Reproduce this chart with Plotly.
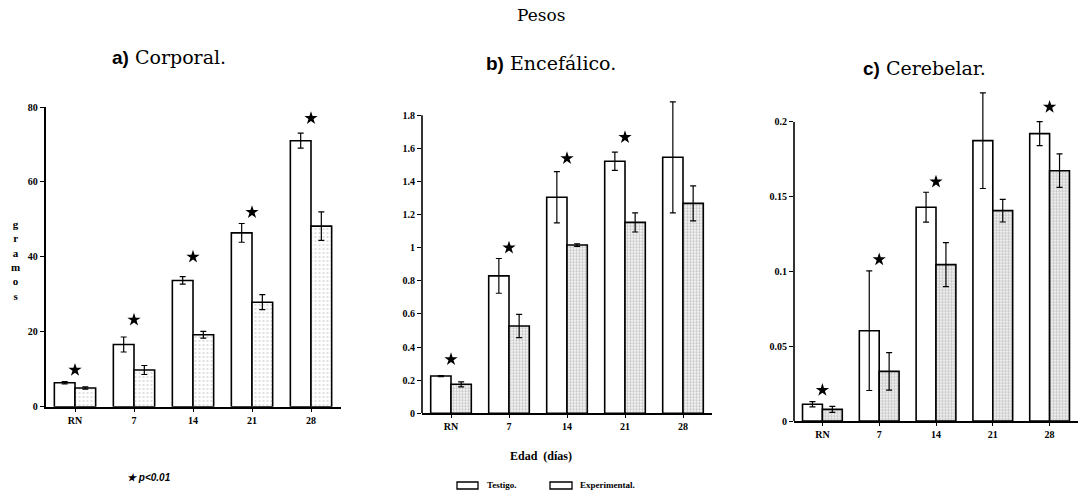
import plotly.graph_objects as go

# ---------------- data ----------------
categories = ["RN", "7", "14", "21", "28"]

corporal_testigo = [6.4, 16.6, 33.7, 46.4, 71.0]
corporal_testigo_err = [0.3, 2.0, 1.0, 2.5, 2.0]
corporal_exp = [5.0, 9.8, 19.2, 27.9, 48.2]
corporal_exp_err = [0.3, 1.2, 0.9, 2.0, 3.8]
corporal_star = [9.8, 23.2, 40.0, 51.9, 77.0]

encef_testigo = [0.225, 0.83, 1.305, 1.522, 1.546]
encef_testigo_err = [0.003, 0.105, 0.155, 0.055, 0.335]
encef_exp = [0.175, 0.527, 1.016, 1.153, 1.268]
encef_exp_err = [0.015, 0.07, 0.008, 0.058, 0.106]
encef_star = [0.326, 1.0, 1.54, 1.667, None]

cereb_testigo = [0.0112, 0.0604, 0.143, 0.1875, 0.1922]
cereb_testigo_err = [0.0017, 0.040, 0.010, 0.032, 0.008]
cereb_exp = [0.0078, 0.0332, 0.1046, 0.1407, 0.1674]
cereb_exp_err = [0.002, 0.0125, 0.0147, 0.0076, 0.0112]
cereb_star = [0.0207, 0.108, 0.160, None, 0.210]

y_ticks_a = [0, 20, 40, 60, 80]
y_ticks_b = [0, 0.2, 0.4, 0.6, 0.8, 1, 1.2, 1.4, 1.6, 1.8]
y_ticks_c = [0, 0.05, 0.1, 0.15, 0.2]

legend_names = ["Testigo.", "Experimental."]

# ---------------- figure ----------------
W, H = 1082, 499
fig = go.Figure()

TICKFONT = dict(family="Liberation Serif", size=10, color="black", weight="bold")


def px(x):
    return x / W


def py(y):
    return 1 - y / H


panels = [
    ("x", "y", corporal_testigo, corporal_testigo_err, corporal_exp, corporal_exp_err, corporal_star,
     dict(size=4, solidity=0.12, fgcolor="#666666")),
    ("x2", "y2", encef_testigo, encef_testigo_err, encef_exp, encef_exp_err, encef_star,
     dict(size=3, solidity=0.5, fgcolor="#8a8a8a")),
    ("x3", "y3", cereb_testigo, cereb_testigo_err, cereb_exp, cereb_exp_err, cereb_star,
     dict(size=3, solidity=0.6, fgcolor="#8a8a8a")),
]

for xa, ya, t, te, e, ee, st, pat in panels:
    fig.add_trace(go.Bar(
        x=categories, y=t, name=legend_names[0], xaxis=xa, yaxis=ya,
        marker=dict(color="white", line=dict(color="black", width=1.6)),
        error_y=dict(type="data", array=te, color="black", thickness=1.2, width=3),
        showlegend=False,
    ))
    fig.add_trace(go.Bar(
        x=categories, y=e, name=legend_names[1], xaxis=xa, yaxis=ya,
        marker=dict(color="white", line=dict(color="black", width=1.6),
                    pattern=dict(shape=".", bgcolor="white", **pat)),
        error_y=dict(type="data", array=ee, color="black", thickness=1.2, width=3),
        showlegend=False,
    ))
    fig.add_trace(go.Scatter(
        x=categories, y=st, mode="markers", xaxis=xa, yaxis=ya,
        marker=dict(symbol="star", size=10, color="black", line=dict(width=0)),
        showlegend=False, hoverinfo="skip",
    ))

xcommon = dict(type="category", range=[-0.5, 4.5], showline=True, linecolor="black", linewidth=1.6,
               ticks="outside", ticklen=3, tickcolor="black", tickfont=TICKFONT,
               showgrid=False, zeroline=False, fixedrange=True, automargin=False)
ycommon = dict(showgrid=False, zeroline=False, ticks="outside", ticklen=4, tickcolor="black",
               tickfont=TICKFONT, fixedrange=True, automargin=False)

fig.update_layout(
    width=W, height=H,
    margin=dict(l=0, r=0, t=0, b=0, autoexpand=False),
    paper_bgcolor="white", plot_bgcolor="white",
    barmode="group", bargap=0.3, bargroupgap=0,
    xaxis=dict(domain=[px(45.5), px(340.5)], anchor="y", **xcommon),
    xaxis2=dict(domain=[px(422), px(712)], anchor="y2", **xcommon),
    xaxis3=dict(domain=[px(794), px(1078)], anchor="y3", **xcommon),
    yaxis=dict(domain=[py(406.7), py(107)], range=[0, 80], tickvals=y_ticks_a,
               showline=True, linecolor="black", linewidth=1.6, anchor="x", **ycommon),
    yaxis2=dict(domain=[py(413.3), py(98.7)], range=[0, 1.9], tickvals=y_ticks_b,
                ticktext=[("%g" % v) for v in y_ticks_b],
                showline=False, anchor="x2", **ycommon),
    yaxis3=dict(domain=[py(421), py(84.6)], range=[0, 0.225], tickvals=y_ticks_c,
                ticktext=[("%g" % v) for v in y_ticks_c],
                showline=False, anchor="x3", **ycommon),
)

# y axis lines for panels b and c that stop at the top tick
shapes = [
    dict(type="line", xref="x2 domain", yref="y2", x0=0, x1=0, y0=0, y1=y_ticks_b[-1],
         line=dict(color="black", width=1.6)),
    dict(type="line", xref="x3 domain", yref="y3", x0=0, x1=0, y0=0, y1=y_ticks_c[-1],
         line=dict(color="black", width=1.6)),
    # legend boxes
    dict(type="rect", xref="paper", yref="paper", x0=px(457), x1=px(478), y0=py(489), y1=py(482),
         line=dict(color="black", width=1.3), fillcolor="white"),
    dict(type="rect", xref="paper", yref="paper", x0=px(550), x1=px(572), y0=py(489), y1=py(482),
         line=dict(color="black", width=1.3), fillcolor="white"),
]
fig.update_layout(shapes=shapes)

TITLE_FONT = dict(family="DejaVu Serif", size=19, color="black")
LBL = '<span style="font-family:Liberation Sans;font-weight:bold">%s</span>'
annotations = [
    dict(text="Pesos", x=px(541), y=py(15),
         font=dict(family="DejaVu Serif", size=17, color="black")),
    dict(text=(LBL % "a)") + " Corporal.", x=px(169), y=py(57), font=TITLE_FONT),
    dict(text=(LBL % "b)") + " Encefálico.", x=px(551), y=py(63), font=TITLE_FONT),
    dict(text=(LBL % "c)") + " Cerebelar.", x=px(924), y=py(68), font=TITLE_FONT),
    dict(text="<b>g<br>r<br>a<br>m<br>o<br>s</b>", x=px(15), y=py(260),
         font=dict(family="Liberation Serif", size=11, color="black")),
    dict(text="<b>Edad  (días)</b>", x=px(541), y=py(456),
         font=dict(family="Liberation Serif", size=12, color="black")),
    dict(text="<b><i>★ p<0.01</i></b>", x=px(149), y=py(477),
         font=dict(family="Liberation Sans", size=10, color="black")),
    dict(text="<b>" + legend_names[0] + "</b>", x=px(485), y=py(485), xanchor="left",
         font=dict(family="Liberation Serif", size=9, color="black")),
    dict(text="<b>" + legend_names[1] + "</b>", x=px(578), y=py(485), xanchor="left",
         font=dict(family="Liberation Serif", size=9, color="black")),
]
for a in annotations:
    a.setdefault("xanchor", "center")
    a.update(xref="paper", yref="paper", yanchor="middle", showarrow=False)
fig.update_layout(annotations=annotations)

fig.write_html("out.html", config={"displayModeBar": False},
               post_script="document.body.style.margin='0';")
